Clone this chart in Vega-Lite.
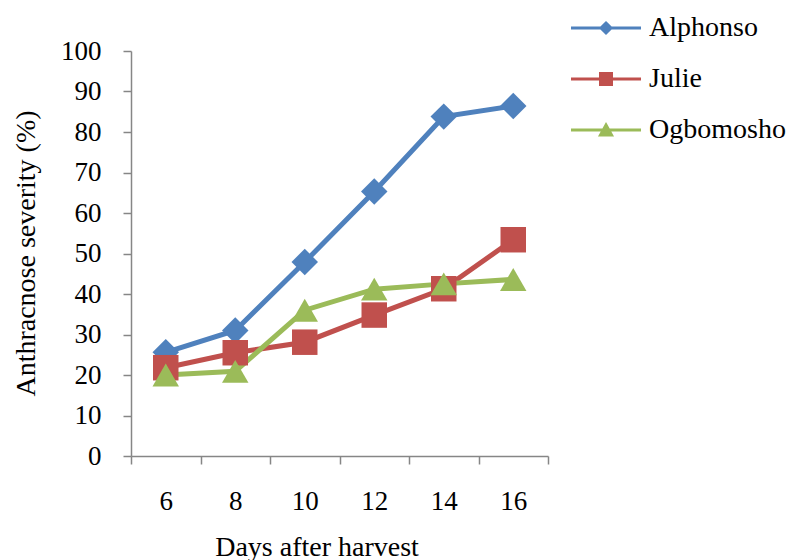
{
  "$schema": "https://vega.github.io/schema/vega-lite/v6.json",
  "width": 417,
  "height": 405,
  "autosize": {"type": "none"},
  "padding": {"left": 131, "top": 51, "right": 242, "bottom": 104},
  "background": "white",
  "config": {
    "font": "Liberation Serif",
    "view": {"stroke": null},
    "axis": {"grid": false, "domainColor": "#868686", "tickColor": "#868686", "domainWidth": 1.5, "tickWidth": 1.5, "labelColor": "black", "titleColor": "black", "labelFont": "Liberation Serif", "titleFont": "Liberation Serif", "titleFontWeight": "normal"}
  },
  "data": {
    "values": [
      {"day": 6, "variety": "Alphonso", "severity": 25.6},
      {"day": 8, "variety": "Alphonso", "severity": 31.0},
      {"day": 10, "variety": "Alphonso", "severity": 47.9},
      {"day": 12, "variety": "Alphonso", "severity": 65.3},
      {"day": 14, "variety": "Alphonso", "severity": 83.8},
      {"day": 16, "variety": "Alphonso", "severity": 86.4},
      {"day": 6, "variety": "Julie", "severity": 21.8},
      {"day": 8, "variety": "Julie", "severity": 25.5},
      {"day": 10, "variety": "Julie", "severity": 28.1},
      {"day": 12, "variety": "Julie", "severity": 34.8},
      {"day": 14, "variety": "Julie", "severity": 41.3},
      {"day": 16, "variety": "Julie", "severity": 53.4},
      {"day": 6, "variety": "Ogbomosho", "severity": 20.0},
      {"day": 8, "variety": "Ogbomosho", "severity": 20.9},
      {"day": 10, "variety": "Ogbomosho", "severity": 36.0},
      {"day": 12, "variety": "Ogbomosho", "severity": 41.2},
      {"day": 14, "variety": "Ogbomosho", "severity": 42.5},
      {"day": 16, "variety": "Ogbomosho", "severity": 43.6}
    ]
  },
  "encoding": {
    "x": {
      "field": "day", "type": "quantitative",
      "scale": {"domain": [5, 17], "nice": false, "zero": false},
      "axis": {
        "values": [5, 6, 7, 8, 9, 10, 11, 12, 13, 14, 15, 16, 17],
        "labelExpr": "datum.value % 2 == 0 ? datum.label : ''",
        "tickOpacity": {"condition": {"test": "datum.value % 2 == 1", "value": 1}, "value": 0},
        "tickSize": 8,
        "labelFontSize": 27,
        "labelBaseline": "middle",
        "labelPadding": 37,
        "labelFlush": false,
        "labelOverlap": false,
        "title": "Days after harvest",
        "titleFontSize": 28,
        "titleX": 185.5,
        "titleY": 99,
        "titleBaseline": "alphabetic",
        "titleAlign": "center"
      }
    },
    "y": {
      "field": "severity", "type": "quantitative",
      "scale": {"domain": [0, 100], "nice": false},
      "axis": {
        "values": [0, 10, 20, 30, 40, 50, 60, 70, 80, 90, 100],
        "tickSize": 8,
        "labelFontSize": 27,
        "labelPadding": 22,
        "labelBaseline": "middle",
        "title": "Anthracnose severity (%)",
        "titleFontSize": 28,
        "titleX": -105,
        "titleY": 202,
        "titleBaseline": "middle",
        "titleAlign": "center",
        "titleAngle": -90
      }
    }
  },
  "layer": [
    {
      "mark": {"type": "line", "strokeWidth": 5},
      "encoding": {
        "color": {
          "field": "variety", "type": "nominal",
          "scale": {"domain": ["Alphonso", "Julie", "Ogbomosho"], "range": ["#4F81BD", "#C0504D", "#9BBB59"]},
          "legend": {
            "title": null,
            "orient": "none",
            "legendX": 461,
            "legendY": -37,
            "padding": 0,
            "symbolSize": 400,
            "symbolStrokeWidth": 3,
            "symbolType": {"expr": "datum.value === 'Alphonso' ? 'M-3.5,0H3.5M0,-0.5L0.5,0L0,0.5L-0.5,0Z' : datum.value === 'Julie' ? 'M-3.5,0H3.5M-0.55,-0.55H0.55V0.55H-0.55Z' : 'M-3.5,0H3.5M0,-0.5L0.55,0.5L-0.55,0.5Z'"},
            "symbolFillColor": {"expr": "scale('color', datum.value)"},
            "symbolStrokeColor": {"expr": "scale('color', datum.value)"},
            "symbolOpacity": 1,
            "labelFontSize": 28,
            "labelFont": "Liberation Serif",
            "labelColor": "black",
            "labelOffset": 29,
            "rowPadding": 23,
            "labelLimit": 300
          }
        }
      }
    },
    {
      "transform": [{"filter": "datum.variety === 'Alphonso'"}],
      "mark": {"type": "point", "shape": "diamond", "filled": true, "opacity": 1, "size": 700},
      "encoding": {"color": {"field": "variety", "type": "nominal", "legend": null}}
    },
    {
      "transform": [{"filter": "datum.variety === 'Julie'"}],
      "mark": {"type": "point", "shape": "square", "filled": true, "opacity": 1, "size": 650},
      "encoding": {"color": {"field": "variety", "type": "nominal", "legend": null}}
    },
    {
      "transform": [{"filter": "datum.variety === 'Ogbomosho'"}],
      "mark": {"type": "point", "shape": "triangle-up", "filled": true, "opacity": 1, "size": 700},
      "encoding": {"color": {"field": "variety", "type": "nominal", "legend": null}}
    }
  ]
}
